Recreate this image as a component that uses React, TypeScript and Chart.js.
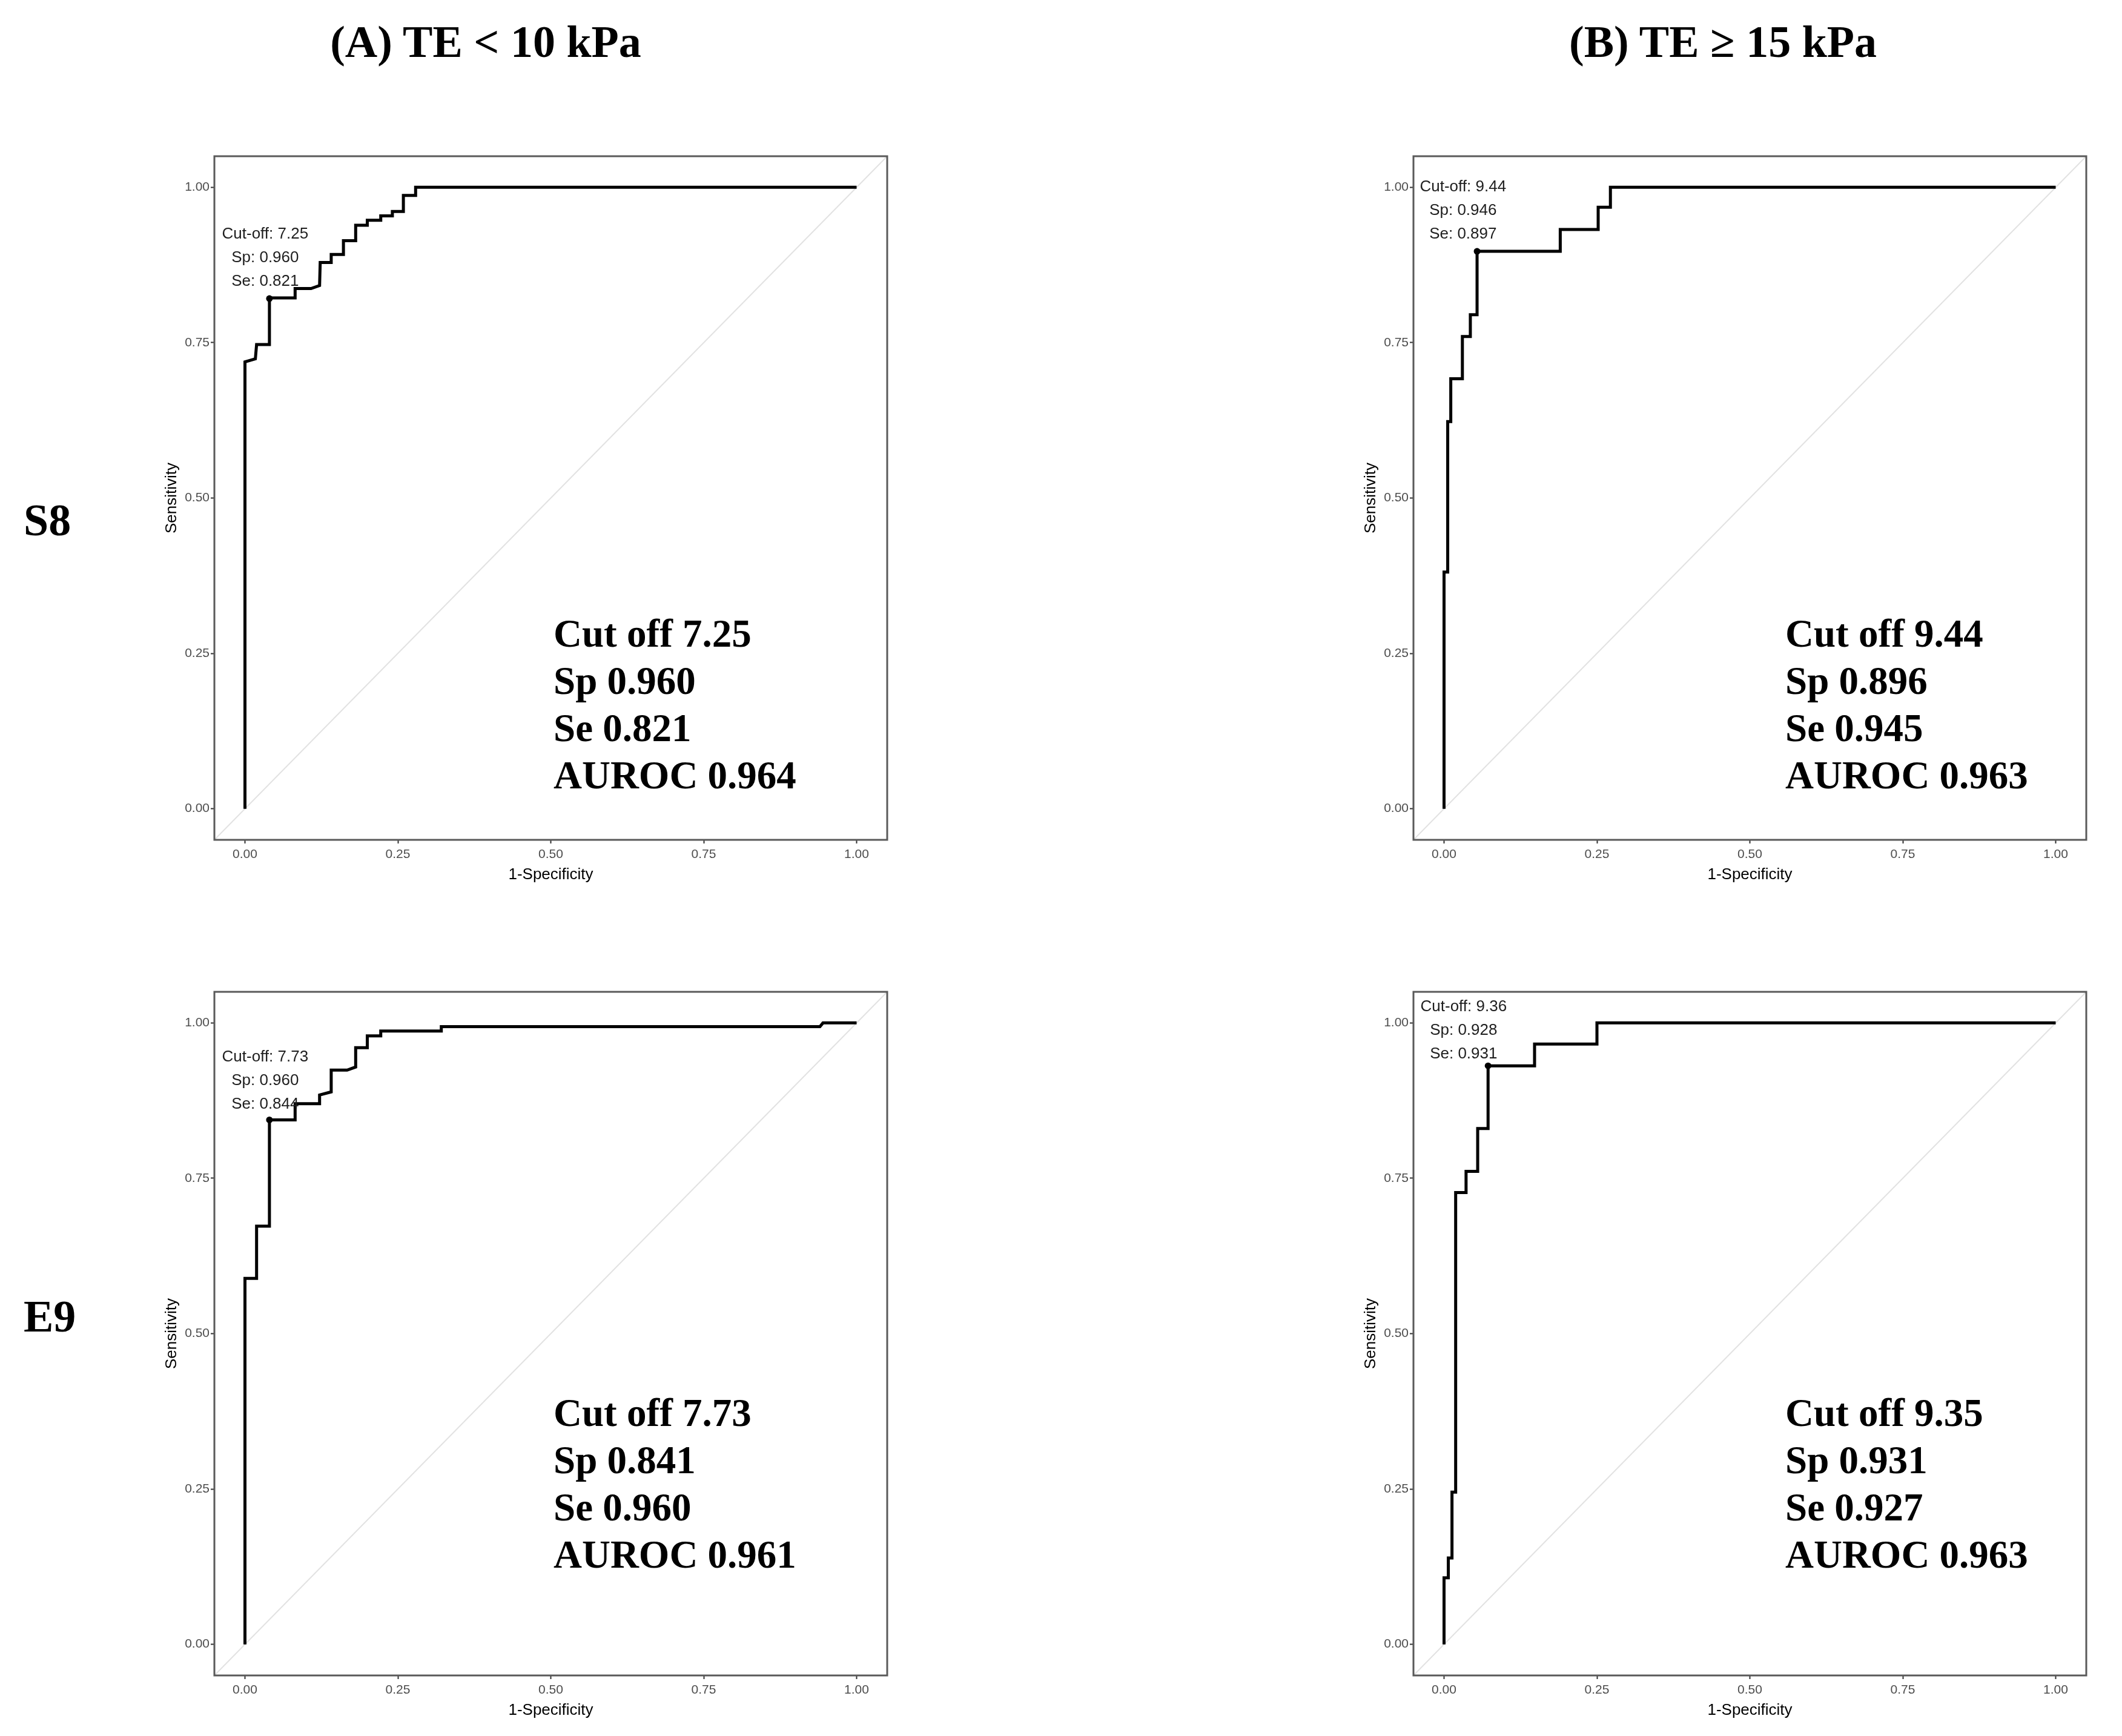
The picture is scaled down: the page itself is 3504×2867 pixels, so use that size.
import React, { useEffect, useRef } from "react";
import { Chart, registerables } from "chart.js";

Chart.register(...registerables);

// ---------- shared axis data ----------
const tickValues = [0, 0.25, 0.5, 0.75, 1];
const axisMin = -0.05;
const axisMax = 1.05;
const xAxisTitle = "1-Specificity";
const yAxisTitle = "Sensitivity";

const columnTitles = ["(A) TE < 10 kPa", "(B) TE \u2265 15 kPa"];
const rowTitles = ["S8", "E9"];

// ---------- S8, TE < 10 kPa ----------
const s8LowFpr = [0, 0, 0.017, 0.019, 0.04, 0.04, 0.082, 0.082, 0.108, 0.122, 0.123, 0.141, 0.141, 0.161, 0.161, 0.181, 0.181, 0.2, 0.2, 0.222, 0.222, 0.241, 0.241, 0.259, 0.259, 0.279, 0.279, 1];
const s8LowTpr = [0, 0.719, 0.724, 0.747, 0.747, 0.822, 0.822, 0.837, 0.837, 0.842, 0.879, 0.879, 0.892, 0.892, 0.914, 0.914, 0.939, 0.939, 0.947, 0.947, 0.954, 0.954, 0.961, 0.961, 0.987, 0.987, 1, 1];
const s8LowCut = [0.04, 0.821];
const s8LowCutText = ["Cut-off: 7.25", "Sp: 0.960", "Se: 0.821"];
const s8LowCutTextAt = [0.033, 0.924];
const s8LowStats = ["Cut off 7.25", "Sp 0.960", "Se 0.821", "AUROC 0.964"];

// ---------- S8, TE >= 15 kPa ----------
const s8HighFpr = [0, 0, 0.006, 0.006, 0.011, 0.011, 0.03, 0.03, 0.043, 0.043, 0.054, 0.054, 0.19, 0.19, 0.252, 0.252, 0.272, 0.272, 1];
const s8HighTpr = [0, 0.381, 0.381, 0.623, 0.623, 0.692, 0.692, 0.76, 0.76, 0.795, 0.795, 0.897, 0.897, 0.932, 0.932, 0.968, 0.968, 1, 1];
const s8HighCut = [0.054, 0.897];
const s8HighCutText = ["Cut-off: 9.44", "Sp: 0.946", "Se: 0.897"];
const s8HighCutTextAt = [0.031, 1.0];
const s8HighStats = ["Cut off 9.44", "Sp 0.896", "Se 0.945", "AUROC 0.963"];

// ---------- E9, TE < 10 kPa ----------
const e9LowFpr = [0, 0, 0.019, 0.019, 0.04, 0.04, 0.082, 0.082, 0.122, 0.122, 0.141, 0.141, 0.167, 0.181, 0.181, 0.2, 0.2, 0.222, 0.222, 0.321, 0.321, 0.94, 0.945, 1];
const e9LowTpr = [0, 0.589, 0.589, 0.673, 0.673, 0.844, 0.844, 0.87, 0.87, 0.884, 0.889, 0.924, 0.924, 0.929, 0.96, 0.96, 0.979, 0.979, 0.987, 0.987, 0.994, 0.994, 1, 1];
const e9LowCut = [0.04, 0.844];
const e9LowCutText = ["Cut-off: 7.73", "Sp: 0.960", "Se: 0.844"];
const e9LowCutTextAt = [0.033, 0.945];
const e9LowStats = ["Cut off 7.73", "Sp 0.841", "Se 0.960", "AUROC 0.961"];

// ---------- E9, TE >= 15 kPa ----------
const e9HighFpr = [0, 0, 0.007, 0.007, 0.013, 0.013, 0.019, 0.019, 0.036, 0.036, 0.055, 0.055, 0.072, 0.072, 0.148, 0.148, 0.25, 0.25, 1];
const e9HighTpr = [0, 0.107, 0.107, 0.139, 0.139, 0.245, 0.245, 0.727, 0.727, 0.761, 0.761, 0.83, 0.83, 0.931, 0.931, 0.966, 0.966, 1, 1];
const e9HighCut = [0.072, 0.931];
const e9HighCutText = ["Cut-off: 9.36", "Sp: 0.928", "Se: 0.931"];
const e9HighCutTextAt = [0.032, 1.026];
const e9HighStats = ["Cut off 9.35", "Sp 0.931", "Se 0.927", "AUROC 0.963"];

// ---------- layout ----------
const BOX_W = 1111;
const BOX_H = 1129;
const AXIS_LEFT = 110;
const AXIS_BOTTOM = 100;
const PAD_TOP = 20;
const PAD_RIGHT = 20;

const SANS = '"Liberation Sans", Arial, sans-serif';
const SERIF = '"Liberation Serif", "Times New Roman", serif';

type PanelProps = {
  fpr: number[];
  tpr: number[];
  cut: number[];
  cutText: string[];
  cutTextAt: number[];
  boxLeft: number;
  boxTop: number;
};

function RocPanel({ fpr, tpr, cut, cutText, cutTextAt, boxLeft, boxTop }: PanelProps) {
  const ref = useRef<HTMLCanvasElement>(null);
  const width = AXIS_LEFT + BOX_W + PAD_RIGHT;
  const height = PAD_TOP + BOX_H + AXIS_BOTTOM;

  useEffect(() => {
    const canvas = ref.current;
    if (!canvas) return;
    const curve = fpr.map((x, i) => ({ x, y: tpr[i] }));

    const overlay = {
      id: "rocOverlay",
      afterDatasetsDraw(chart: any) {
        const { ctx, chartArea: a, scales } = chart;
        ctx.save();
        // cut-off label
        ctx.font = `26px ${SANS}`;
        ctx.fillStyle = "#1e1e1e";
        ctx.textAlign = "center";
        ctx.textBaseline = "middle";
        const px = scales.x.getPixelForValue(cutTextAt[0]);
        const py = scales.y.getPixelForValue(cutTextAt[1]);
        cutText.forEach((t, i) => ctx.fillText(t, px, py + i * 39));
        // panel border
        ctx.strokeStyle = "#5a5a5a";
        ctx.lineWidth = 3;
        ctx.strokeRect(a.left, a.top, a.right - a.left, a.bottom - a.top);
        ctx.restore();
      },
    };

    const tickFont = { family: SANS, size: 21 };
    const titleFont = { family: SANS, size: 26 };

    const chart = new Chart(canvas, {
      type: "scatter",
      data: {
        datasets: [
          {
            data: [{ x: cut[0], y: cut[1] }],
            pointRadius: 5.5,
            pointBackgroundColor: "#000",
            pointBorderColor: "#000",
            pointBorderWidth: 0,
            showLine: false,
          },
          {
            data: curve,
            showLine: true,
            borderColor: "#000",
            borderWidth: 5,
            pointRadius: 0,
            tension: 0,
            fill: false,
            borderJoinStyle: "miter",
          },
          {
            data: [
              { x: axisMin, y: axisMin },
              { x: axisMax, y: axisMax },
            ],
            showLine: true,
            borderColor: "#e2e2e2",
            borderWidth: 2,
            pointRadius: 0,
          },
        ],
      } as any,
      options: {
        animation: false,
        responsive: false,
        devicePixelRatio: 1,
        events: [],
        layout: { padding: { left: 0, top: PAD_TOP, right: PAD_RIGHT, bottom: 0 } },
        plugins: { legend: { display: false }, tooltip: { enabled: false } },
        scales: {
          x: {
            type: "linear",
            min: axisMin,
            max: axisMax,
            afterBuildTicks: (s: any) => {
              s.ticks = tickValues.map((v) => ({ value: v }));
            },
            afterFit: (s: any) => {
              s.height = AXIS_BOTTOM;
            },
            ticks: {
              callback: (v: any) => Number(v).toFixed(2),
              color: "#4d4d4d",
              font: tickFont,
              padding: 6,
              maxRotation: 0,
              autoSkip: false,
            },
            grid: { drawOnChartArea: false, drawTicks: true, tickLength: 6, tickColor: "#333", tickWidth: 2 },
            border: { display: false },
            title: { display: true, text: xAxisTitle, color: "#000", font: titleFont, padding: { top: 0, bottom: 27 } },
          },
          y: {
            type: "linear",
            min: axisMin,
            max: axisMax,
            afterBuildTicks: (s: any) => {
              s.ticks = tickValues.map((v) => ({ value: v }));
            },
            afterFit: (s: any) => {
              s.width = AXIS_LEFT;
            },
            ticks: {
              callback: (v: any) => Number(v).toFixed(2),
              color: "#4d4d4d",
              font: tickFont,
              padding: 2,
              autoSkip: false,
            },
            grid: { drawOnChartArea: false, drawTicks: true, tickLength: 6, tickColor: "#333", tickWidth: 2 },
            border: { display: false },
            title: { display: true, text: yAxisTitle, color: "#000", font: titleFont, padding: { top: 24, bottom: 0 } },
          },
        },
      } as any,
      plugins: [overlay],
    });
    return () => chart.destroy();
  }, []);

  return (
    <canvas
      ref={ref}
      width={width}
      height={height}
      style={{
        position: "absolute",
        left: boxLeft - AXIS_LEFT,
        top: boxTop - PAD_TOP,
        width,
        height,
      }}
    />
  );
}

function Stats({ lines, left, top }: { lines: string[]; left: number; top: number }) {
  return (
    <div
      style={{
        position: "absolute",
        left,
        top,
        fontFamily: SERIF,
        fontWeight: "bold",
        fontSize: 65,
        lineHeight: "78px",
        color: "#000",
        whiteSpace: "pre",
      }}
    >
      {lines.map((l, i) => (
        <div key={i}>{l}</div>
      ))}
    </div>
  );
}

export default function App() {
  const boldSerif = { fontFamily: SERIF, fontWeight: "bold" as const, color: "#000", whiteSpace: "pre" as const };
  return (
    <div style={{ position: "absolute", left: 0, top: 0, width: 3504, height: 2867, background: "#fff", overflow: "hidden" }}>
      <div style={{ ...boldSerif, position: "absolute", left: 402, top: 32, width: 800, textAlign: "center", fontSize: 74, lineHeight: "74px" }}>
        {columnTitles[0]}
      </div>
      <div style={{ ...boldSerif, position: "absolute", left: 2445, top: 32, width: 800, textAlign: "center", fontSize: 74, lineHeight: "74px" }}>
        {columnTitles[1]}
      </div>
      <div style={{ ...boldSerif, position: "absolute", left: 39, top: 822, fontSize: 74, lineHeight: "74px" }}>{rowTitles[0]}</div>
      <div style={{ ...boldSerif, position: "absolute", left: 39, top: 2137, fontSize: 74, lineHeight: "74px" }}>{rowTitles[1]}</div>

      <RocPanel fpr={s8LowFpr} tpr={s8LowTpr} cut={s8LowCut} cutText={s8LowCutText} cutTextAt={s8LowCutTextAt} boxLeft={354} boxTop={258} />
      <RocPanel fpr={s8HighFpr} tpr={s8HighTpr} cut={s8HighCut} cutText={s8HighCutText} cutTextAt={s8HighCutTextAt} boxLeft={2334} boxTop={258} />
      <RocPanel fpr={e9LowFpr} tpr={e9LowTpr} cut={e9LowCut} cutText={e9LowCutText} cutTextAt={e9LowCutTextAt} boxLeft={354} boxTop={1638} />
      <RocPanel fpr={e9HighFpr} tpr={e9HighTpr} cut={e9HighCut} cutText={e9HighCutText} cutTextAt={e9HighCutTextAt} boxLeft={2334} boxTop={1638} />

      <Stats lines={s8LowStats} left={914} top={1007} />
      <Stats lines={s8HighStats} left={2948} top={1007} />
      <Stats lines={e9LowStats} left={914} top={2294} />
      <Stats lines={e9HighStats} left={2948} top={2294} />
    </div>
  );
}
